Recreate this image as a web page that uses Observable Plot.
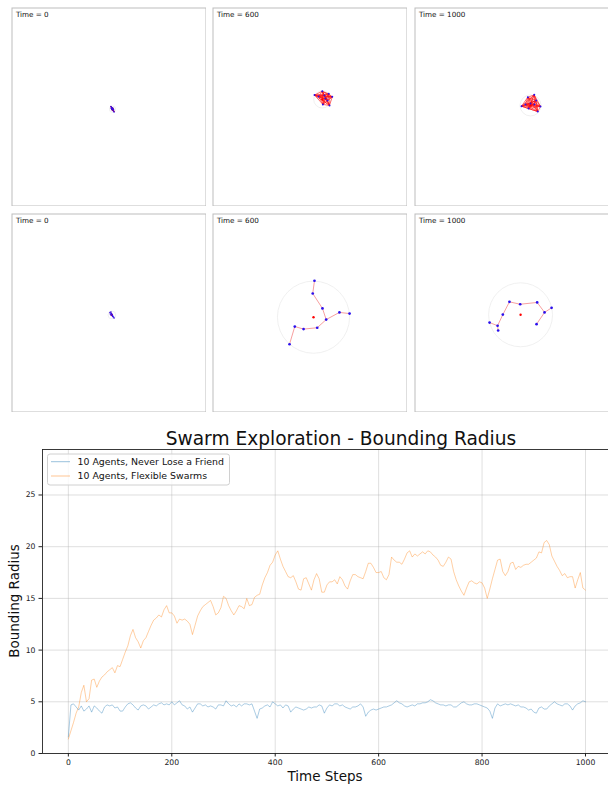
<!DOCTYPE html>
<html><head><meta charset="utf-8">
<script src="https://cdn.jsdelivr.net/npm/d3@7"></script>
<script src="https://cdn.jsdelivr.net/npm/@observablehq/plot@0.6"></script>
<style>
body{margin:0;background:#fff;}
#root{position:relative;width:608px;height:785px;overflow:hidden;font-family:"DejaVu Sans",sans-serif;background:#fff;}
</style></head><body><div id="root"></div>
<script>
// ---------- data ----------
const panelTimes = [0, 600, 1000, 0, 600, 1000];

// "Never Lose a Friend" swarm snapshots (agent positions)
const fixedT0X = [1.0, 1.3, 1.8, 2.05, 2.3, 2.6, 1.5, 1.2, 1.9, 2.3];
const fixedT0Y = [0.25, -0.25, -0.75, -1.5, -2.0, -2.5, -1.3, -0.75, -0.5, -1.3];
const fixedT600X = [2.3, 6.3, 9.6, 11.4, 10.0, 6.6, 4.4, 7.9, 7.4, 9.0];
const fixedT600Y = [6.0, 7.9, 6.6, 5.1, 0.8, 1.3, 5.3, 4.3, 5.8, 3.3];
const fixedT1000X = [4.9, 8.1, 11.4, 12.4, 14.6, 13.2, 9.5, 8.5, 11.5, 6.9];
const fixedT1000Y = [0.4, 4.9, 6.1, 3.3, 0.3, -2.3, 1.8, -0.8, 1.3, 1.3];

// "Flexible Swarms" snapshots (agent positions + links)
const flexT0X = [0.5, 1.0, 1.3, 0.7, 1.5, 1.8, 2.3, 2.6, 1.0, 1.9];
const flexT0Y = [0.25, 0.5, -0.25, -0.5, -0.75, -1.25, -2.0, -2.5, -1.0, -1.75];
const flexT0Edges = [[0,1],[0,3],[1,2],[2,4],[4,5],[5,9],[9,6],[6,7],[3,8]];
const flexT600X = [2.3, 1.4, 6.4, 8.3, 15.1, 20.3, 3.7, -3.3, -7.8, -10.5];
const flexT600Y = [16.2, 9.8, 2.3, -3.3, 0.3, -0.3, -7.4, -8.1, -6.8, -15.7];
const flexT600Edges = [[0,1],[1,2],[2,3],[3,4],[4,5],[3,6],[6,7],[7,8],[8,9]];
const flexT1000X = [-1.3, 4.2, 12.9, 16.7, 20.3, 12.6, -4.7, -7.4, -11.5, -7.1];
const flexT1000Y = [5.6, 4.4, 5.3, 0.3, 2.6, -5.6, -0.8, -6.4, -4.8, -8.8];
const flexT1000Edges = [[0,1],[1,2],[2,3],[3,4],[3,5],[0,6],[6,7],[7,8],[7,9]];

// swarm centre and bounding radius per panel
const centerX = [1.8, 6.3, 9.5, 1.5, 1.8, 4.4];
const centerY = [-1.1, 3.8, 0.8, -1.0, -2.1, -0.9];
const boundRadius = [1.6, 4.4, 5.4, 2.0, 18.5, 16.4];

// bounding radius time series, one value every 5 steps (t = 0..1000)
const timeStep = 5;
const neverLoseRadius = [
1.6,4.7,4.8,4.5,4.2,4.6,4.1,4.3,4.6,4.0,
4.6,4.4,4.1,3.9,4.5,4.7,4.6,4.7,4.4,4.5,
4.1,4.1,4.5,4.8,4.9,4.7,4.4,4.2,4.6,4.7,
4.6,4.3,4.5,4.7,4.6,4.8,4.9,4.7,4.8,4.7,
5.0,4.7,4.9,5.1,4.7,4.6,4.3,4.5,4.0,4.4,
4.8,4.8,4.6,4.7,4.5,4.6,4.5,4.3,4.7,4.7,
4.6,5.1,4.8,4.6,4.7,4.5,4.8,4.6,4.8,4.8,
4.7,4.8,4.1,3.4,4.3,4.4,4.6,4.7,4.5,5.0,
4.8,4.6,4.7,4.4,4.7,4.6,4.0,4.3,4.5,4.4,
4.3,4.2,4.3,4.5,4.4,4.5,4.5,4.7,4.6,3.9,
4.4,4.7,4.6,4.8,4.8,4.6,4.7,4.5,4.4,4.3,
4.5,4.5,4.6,4.8,4.5,3.6,4.0,4.2,4.3,4.2,
4.3,4.4,4.5,4.5,4.6,4.7,4.9,5.1,4.9,4.8,
4.6,4.5,4.6,4.7,4.6,4.8,4.8,4.9,4.9,5.0,
5.2,5.1,4.9,4.8,4.7,4.7,4.6,4.7,4.7,4.5,
4.5,4.7,4.9,5.0,4.8,4.7,4.7,4.8,4.8,4.7,
4.6,4.5,4.4,4.1,3.4,4.4,4.8,4.6,4.7,4.8,
4.7,4.8,4.7,4.6,4.7,4.5,4.5,4.4,4.2,4.3,
4.0,3.9,4.4,4.5,4.3,4.3,4.6,4.8,5.0,4.8,
4.7,4.6,4.8,4.8,4.6,4.2,4.6,4.8,4.9,5.1,
5.0];
const flexibleRadius = [
1.4,2.2,3.0,3.9,4.5,5.9,6.6,5.0,5.3,7.1,
7.2,6.4,7.0,7.4,7.6,7.9,8.1,8.3,7.8,8.5,
8.4,9.1,9.8,10.4,11.4,12.0,11.2,10.8,10.2,10.9,
11.2,11.8,12.4,12.9,13.1,13.4,13.2,13.9,14.3,13.6,
13.6,13.3,12.6,13.0,12.9,13.0,12.8,12.5,11.5,12.4,
13.3,13.8,14.2,14.4,14.6,14.8,14.2,13.4,13.6,14.1,
15.2,15.0,14.3,13.8,13.4,13.8,14.3,14.2,14.0,15.0,
14.3,14.4,15.1,15.3,15.4,16.3,17.0,17.5,18.2,18.5,
19.2,19.6,18.8,18.1,17.6,17.1,17.0,17.2,16.6,15.9,
15.8,16.9,17.0,16.4,15.8,16.8,17.4,16.9,15.6,15.6,
16.3,16.6,16.6,16.8,16.4,17.1,16.8,16.2,15.9,16.7,
17.3,17.3,17.1,17.0,16.9,17.6,18.4,18.4,18.0,17.5,
17.5,17.6,17.0,16.8,17.3,19.0,18.7,18.5,18.5,18.3,
18.8,19.4,19.6,19.0,19.3,19.1,19.3,19.5,19.3,19.6,
19.5,19.2,19.0,18.7,18.2,18.1,18.5,19.0,18.8,17.6,
16.8,16.2,15.7,15.3,16.0,16.6,16.7,16.5,16.4,16.6,
16.5,16.0,15.0,15.9,16.9,17.8,18.7,18.8,17.6,17.2,
17.6,18.4,18.5,17.8,18.1,18.0,18.2,18.3,18.3,18.5,
18.7,18.9,19.5,19.4,20.4,20.6,20.2,19.1,18.6,18.1,
17.7,17.2,17.4,17.0,17.1,17.1,16.0,16.8,17.5,16.0,
15.8];

const xTicks = [0, 200, 400, 600, 800, 1000];
const yTicks = [0, 5, 10, 15, 20, 25];
const seriesNames = ["10 Agents, Never Lose a Friend", "10 Agents, Flexible Swarms"];
const chartTitle = "Swarm Exploration - Bounding Radius";
const xLabel = "Time Steps";
const yLabel = "Bounding Radius";

// ---------- layout ----------
const root = document.getElementById("root");
const FONT = "DejaVu Sans, sans-serif";

function allPairs(n) {
  const out = [];
  for (let a = 0; a < n; a++) for (let b = a + 1; b < n; b++) out.push([a, b]);
  return out;
}

function panel(idx, xs, ys, edges, complete) {
  const agents = xs.map((x, k) => ({x, y: ys[k]}));
  const links = edges.map(([a, b]) => ({x1: xs[a], y1: ys[a], x2: xs[b], y2: ys[b]}));
  const tiny = panelTimes[idx] === 0;
  return Plot.plot({
    width: 195, height: 199, margin: 0,
    style: {fontFamily: FONT, background: "transparent"},
    x: {domain: [-50, 50], axis: null},
    y: {domain: [-50, 50], axis: null},
    r: {type: "linear", domain: [0, 50], range: [0, 97.5]},
    marks: [
      Plot.frame({stroke: "#bdbdbd", inset: 0.5}),
      Plot.dot([{x: centerX[idx], y: centerY[idx], r: boundRadius[idx]}],
        {x: "x", y: "y", r: "r", fill: "none", stroke: "#ececec", strokeWidth: 0.8}),
      Plot.link(links, {x1: "x1", y1: "y1", x2: "x2", y2: "y2",
        stroke: complete ? "#ff1010" : "#ee3b3b",
        strokeOpacity: complete ? 0.7 : 0.55, strokeWidth: 0.9}),
      Plot.dot([{x: centerX[idx], y: centerY[idx]}], {x: "x", y: "y", r: 1.2, fill: "red"}),
      Plot.dot(agents, {x: "x", y: "y", r: tiny ? 0.8 : (complete ? 1.0 : 1.35), fill: "#2a10ee"}),
      Plot.text([`Time = ${panelTimes[idx]}`], {frameAnchor: "top-left", text: d => d,
        dx: 4.4, dy: 4.3, lineAnchor: "top", textAnchor: "start", fontSize: 7.2, fill: "#111"})
    ]
  });
}

const panelDefs = [
  [fixedT0X, fixedT0Y, allPairs(10), true],
  [fixedT600X, fixedT600Y, allPairs(10), true],
  [fixedT1000X, fixedT1000Y, allPairs(10), true],
  [flexT0X, flexT0Y, flexT0Edges, false],
  [flexT600X, flexT600Y, flexT600Edges, false],
  [flexT1000X, flexT1000Y, flexT1000Edges, false]
];
const lefts = [11, 212, 414], tops = [7, 213];
panelDefs.forEach((d, i) => {
  const el = panel(i, d[0], d[1], d[2], d[3]);
  el.style.position = "absolute";
  el.style.left = lefts[i % 3] + "px";
  el.style.top = tops[Math.floor(i / 3)] + "px";
  root.appendChild(el);
});

// ---------- line chart ----------
const blueRows = neverLoseRadius.map((v, i) => ({t: i * timeStep, v}));
const orangeRows = flexibleRadius.map((v, i) => ({t: i * timeStep, v}));
const yTop = 29.4;
const chart = Plot.plot({
  width: 608, height: 360,
  marginTop: 24, marginBottom: 32, marginLeft: 42, marginRight: 0,
  style: {fontFamily: FONT, fontSize: "7.7px", color: "#222", background: "transparent"},
  x: {domain: [-50, 1044.5]},
  y: {domain: [0, yTop]},
  marks: [
    Plot.gridX(xTicks, {stroke: "#b0b0b0", strokeOpacity: 0.45, strokeWidth: 0.9}),
    Plot.gridY(yTicks, {stroke: "#b0b0b0", strokeOpacity: 0.45, strokeWidth: 0.9}),
    Plot.line(blueRows, {x: "t", y: "v", stroke: "#1f77b4", strokeOpacity: 0.5, strokeWidth: 0.75}),
    Plot.line(orangeRows, {x: "t", y: "v", stroke: "#ff7f0e", strokeOpacity: 0.5, strokeWidth: 0.75}),
    Plot.ruleX([-50], {stroke: "#222", strokeWidth: 0.9}),
    Plot.ruleY([0], {stroke: "#222", strokeWidth: 0.9}),
    Plot.ruleY([yTop], {stroke: "#222", strokeWidth: 0.9}),
    Plot.axisX(xTicks, {tickSize: 3.5, tickPadding: 2.5, label: null, fontSize: 7.7, tickFormat: d => String(d)}),
    Plot.axisY(yTicks, {tickSize: 3.5, tickPadding: 3.5, label: null, fontSize: 7.7, tickFormat: d => String(d)})
  ]
});
chart.style.position = "absolute";
chart.style.left = "0px";
chart.style.top = "425px";
root.appendChild(chart);

// ---------- text overlay (title, axis labels, legend) ----------
const ov = d3.select(root).append("svg")
  .attr("width", 608).attr("height", 785)
  .style("position", "absolute").style("left", 0).style("top", 0)
  .style("pointer-events", "none")
  .style("font-family", FONT);
ov.append("text").attr("x", 341).attr("y", 445).attr("text-anchor", "middle")
  .attr("font-size", 18.6).attr("fill", "#111").text(chartTitle);
ov.append("text").attr("x", 325).attr("y", 780.5).attr("text-anchor", "middle")
  .attr("font-size", 13.5).attr("fill", "#111").text(xLabel);
ov.append("text").attr("transform", "translate(18.5,601) rotate(-90)").attr("text-anchor", "middle")
  .attr("font-size", 13.5).attr("fill", "#111").text(yLabel);

const lg = ov.append("g");
lg.append("rect").attr("x", 47.5).attr("y", 454).attr("width", 182).attr("height", 31)
  .attr("rx", 2.5).attr("fill", "white").attr("fill-opacity", 0.8).attr("stroke", "#d0d0d0");
const legendColors = ["#1f77b4", "#ff7f0e"];
seriesNames.forEach((name, i) => {
  const y = 461.7 + i * 14.3;
  lg.append("line").attr("x1", 51).attr("x2", 70).attr("y1", y).attr("y2", y)
    .attr("stroke", legendColors[i]).attr("stroke-opacity", 0.5).attr("stroke-width", 0.9);
  lg.append("text").attr("x", 77.5).attr("y", y).attr("dy", "0.35em")
    .attr("font-size", 9.4).attr("fill", "#111").text(name);
});
</script>
</body></html>
